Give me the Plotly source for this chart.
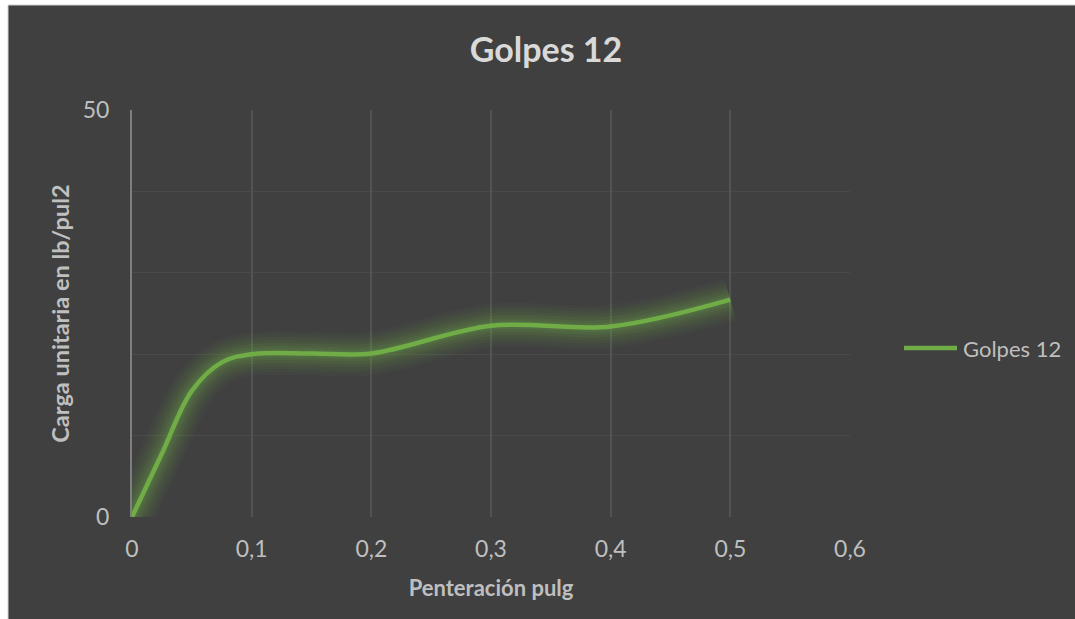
import plotly.graph_objects as go

# CBR penetration test, 12 blows
penetracion = [0, 0.025, 0.05, 0.075, 0.1, 0.15, 0.2, 0.3, 0.4, 0.5]
carga = [0, 7.8, 15.5, 19.0, 20.0, 20.1, 20.1, 23.5, 23.4, 26.7]

x_ticks = [0, 0.1, 0.2, 0.3, 0.4, 0.5, 0.6]
x_tick_labels = ["0", "0,1", "0,2", "0,3", "0,4", "0,5", "0,6"]
y_ticks = [0, 50]
y_tick_labels = ["0", "50"]

serie = "Golpes 12"
titulo = "Golpes 12"
titulo_x = "Penteración pulg"
titulo_y = "Carga unitaria en lb/pul2"

W, H = 1075, 619
L, R, T, B = 132, 225, 110, 102
pw, ph = W - L - R, H - T - B

BG = "#404040"
GREEN = "#70AD47"
FONT = "Lato"


def px_x(p):
    return (p - L) / pw


def px_y(p):
    return (H - B - p) / ph


fig = go.Figure()

# soft glow under the line
for w, a in [(44, 0.04), (38, 0.05), (32, 0.06), (26, 0.07), (20, 0.09), (14, 0.11), (9, 0.13)]:
    fig.add_trace(go.Scatter(
        x=penetracion, y=carga, mode="lines",
        line=dict(color=f"rgba(112,173,71,{a})", width=w, shape="spline", smoothing=1),
        showlegend=False, hoverinfo="skip",
    ))

fig.add_trace(go.Scatter(
    x=penetracion, y=carga, mode="lines", name=serie,
    line=dict(color=GREEN, width=4.5, shape="spline", smoothing=1),
    showlegend=False,
))

fig.update_layout(
    width=W, height=H,
    margin=dict(l=L, r=R, t=T, b=B, pad=0),
    paper_bgcolor=BG, plot_bgcolor=BG,
    font=dict(family=FONT, color="#BFBFBF", size=23),
    title=dict(text=f"<b>{titulo}</b>", x=546 / W, xanchor="center",
               y=1 - 50 / H, yanchor="middle",
               font=dict(family=FONT, size=34, color="#D9D9D9")),
    xaxis=dict(
        range=[0, 0.6], tickvals=x_ticks, ticktext=x_tick_labels,
        showgrid=True, gridcolor="#535353", gridwidth=1.5,
        zeroline=False, showline=False, ticks="",
        ticklabelstandoff=16,
        tickfont=dict(family=FONT, size=23, color="#BFBFBF"),
        title=dict(text=f"<b>{titulo_x}</b>", standoff=19,
                   font=dict(family=FONT, size=22, color="#BFBFBF")),
    ),
    yaxis=dict(
        range=[0, 50], tickvals=y_ticks, ticktext=y_tick_labels,
        showgrid=True, gridcolor="#535353", gridwidth=1.5,
        minor=dict(dtick=10, showgrid=True, gridcolor="#4A4A4A", gridwidth=1),
        zeroline=False, showline=True, linecolor="#7F7F7F", linewidth=2, ticks="",
        ticklabelstandoff=16,
        tickfont=dict(family=FONT, size=23, color="#BFBFBF"),
        title=dict(text=f"<b>{titulo_y}</b>", standoff=6,
                   font=dict(family=FONT, size=23.5, color="#BFBFBF")),
    ),
    annotations=[
        dict(text=serie, xref="paper", yref="paper", x=px_x(961), y=px_y(348),
             xanchor="left", yanchor="middle", showarrow=False,
             font=dict(family=FONT, size=22, color="#BFBFBF")),
    ],
    shapes=[
        # legend key
        dict(type="line", xref="paper", yref="paper",
             x0=px_x(904), x1=px_x(957), y0=px_y(348), y1=px_y(348),
             line=dict(color=GREEN, width=4.5)),
        # white page strips around the chart area
        dict(type="rect", xref="paper", yref="paper", layer="above",
             x0=px_x(0), x1=px_x(8), y0=px_y(H), y1=px_y(0),
             fillcolor="white", line=dict(width=0)),
        dict(type="rect", xref="paper", yref="paper", layer="above",
             x0=px_x(0), x1=px_x(W), y0=px_y(5), y1=px_y(0),
             fillcolor="white", line=dict(width=0)),
        dict(type="line", xref="paper", yref="paper", layer="above",
             x0=px_x(8), x1=px_x(W), y0=px_y(5), y1=px_y(5),
             line=dict(color="#D0D0D0", width=1)),
        dict(type="line", xref="paper", yref="paper", layer="above",
             x0=px_x(8), x1=px_x(8), y0=px_y(H), y1=px_y(5),
             line=dict(color="#D0D0D0", width=1)),
    ],
)

fig.write_html("out.html")
